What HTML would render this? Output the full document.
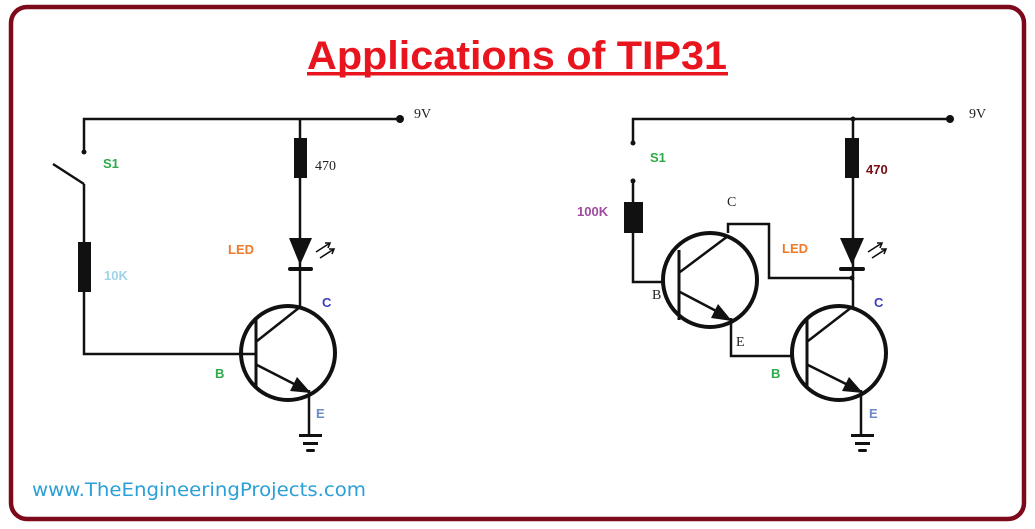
<!DOCTYPE html>
<html><head><meta charset="utf-8"><style>
html,body{margin:0;padding:0;background:#fff;}
svg{display:block;}
</style></head><body>
<svg width="1035" height="529" viewBox="0 0 1035 529" xmlns="http://www.w3.org/2000/svg">
<rect x="11" y="7" width="1013" height="512" rx="16" ry="16" fill="#fff" stroke="#7d0a1a" stroke-width="4.5"/>
<text x="517" y="69" text-anchor="middle" font-family="Liberation Sans, sans-serif" font-weight="bold" font-size="40" fill="#e8141e" textLength="420" lengthAdjust="spacingAndGlyphs">Applications of TIP31</text>
<rect x="307" y="72" width="421" height="3.5" fill="#e8141e"/>
<text x="32" y="496" font-family="DejaVu Sans, Liberation Sans, sans-serif" font-size="19" fill="#2a9fd8" textLength="334" lengthAdjust="spacingAndGlyphs">www.TheEngineeringProjects.com</text>

<g stroke="#111" stroke-width="2.5" fill="none">
<polyline points="84,152 84,119 400,119"/>
<line x1="53" y1="164" x2="84" y2="184"/>
<polyline points="84,184 84,354 255,354"/>
<line x1="300" y1="119" x2="300" y2="307"/>
<circle cx="288" cy="353" r="47" stroke-width="4"/>
<line x1="256" y1="320" x2="256" y2="386" stroke-width="3"/>
<line x1="257" y1="341" x2="300" y2="307"/>
<line x1="257" y1="365" x2="300" y2="387"/>
<line x1="309" y1="390" x2="309" y2="435"/>
<polyline points="633,143 633,119 950,119"/>
<polyline points="633,181 633,282 662,282"/>
<line x1="853" y1="119" x2="853" y2="307"/>
<polyline points="728,233 728,224 769,224 769,278 853,278"/>
<circle cx="710" cy="280" r="47" stroke-width="4"/>
<line x1="679" y1="250" x2="679" y2="320" stroke-width="3"/>
<line x1="680" y1="272" x2="728" y2="236"/>
<line x1="680" y1="292" x2="720" y2="313"/>
<polyline points="731,318 731,356 792,356"/>
<circle cx="839" cy="353" r="47" stroke-width="4"/>
<line x1="807" y1="320" x2="807" y2="386" stroke-width="3"/>
<line x1="808" y1="341" x2="852" y2="307"/>
<line x1="808" y1="365" x2="852" y2="387"/>
<line x1="861" y1="390" x2="861" y2="435"/>
</g>
<g fill="#111">
<circle cx="400" cy="119" r="4"/><circle cx="84" cy="152" r="2.5"/>
<rect x="78" y="242" width="13" height="50"/>
<rect x="294" y="138" width="13" height="40"/>
<polygon points="289,238 312,238 300,265"/>
<rect x="288" y="267" width="25" height="4" rx="2"/>
<polygon points="311,393 290,391 297,377"/>
<rect x="299" y="434" width="23" height="3"/><rect x="303" y="442" width="15" height="3"/><rect x="306" y="449" width="9" height="3" rx="1.5"/>
<circle cx="950" cy="119" r="4"/><circle cx="853" cy="119" r="2.5"/>
<circle cx="633" cy="143" r="2.5"/><circle cx="633" cy="181" r="2.5"/>
<rect x="624" y="202" width="19" height="31"/>
<rect x="845" y="138" width="14" height="40"/>
<polygon points="840,238 864,238 852,265"/>
<rect x="839" y="267" width="26" height="4" rx="2"/>
<circle cx="852" cy="278" r="2.5"/>
<polygon points="732,321 711,318 718,304"/>
<polygon points="863,393 842,391 849,377"/>
<rect x="851" y="434" width="23" height="3"/><rect x="855" y="442" width="15" height="3"/><rect x="858" y="449" width="9" height="3" rx="1.5"/>
</g>
<g stroke="#111" stroke-width="1.6" fill="none">
<line x1="316" y1="252" x2="330" y2="243"/><line x1="320" y1="258" x2="334" y2="249"/>
<polyline points="325,243 330,243 328,248"/><polyline points="329,249 334,249 332,254"/>
<line x1="868" y1="252" x2="882" y2="243"/><line x1="872" y1="258" x2="886" y2="249"/>
<polyline points="877,243 882,243 880,248"/><polyline points="881,249 886,249 884,254"/>
</g>
<g font-family="Liberation Sans, sans-serif" font-weight="bold" font-size="13">
<text x="103" y="168" fill="#2eaa4a">S1</text>
<text x="104" y="280" fill="#9fd3ea">10K</text>
<text x="228" y="254" fill="#ee7a2a">LED</text>
<text x="322" y="307" fill="#3c3cc0">C</text>
<text x="215" y="378" fill="#2eaa4a">B</text>
<text x="316" y="418" fill="#6a8ac8">E</text>
<text x="650" y="162" fill="#2eaa4a">S1</text>
<text x="577" y="216" fill="#a04aa0">100K</text>
<text x="866" y="174" fill="#7a0a14">470</text>
<text x="782" y="253" fill="#ee7a2a">LED</text>
<text x="874" y="307" fill="#3c3cc0">C</text>
<text x="771" y="378" fill="#2eaa4a">B</text>
<text x="869" y="418" fill="#6a8ac8">E</text>
</g>
<g font-family="Liberation Serif, serif" font-size="14" fill="#222">
<text x="414" y="118">9V</text>
<text x="315" y="170">470</text>
<text x="969" y="118">9V</text>
<text x="727" y="206">C</text>
<text x="652" y="299">B</text>
<text x="736" y="346">E</text>
</g>
</svg>
</body></html>
